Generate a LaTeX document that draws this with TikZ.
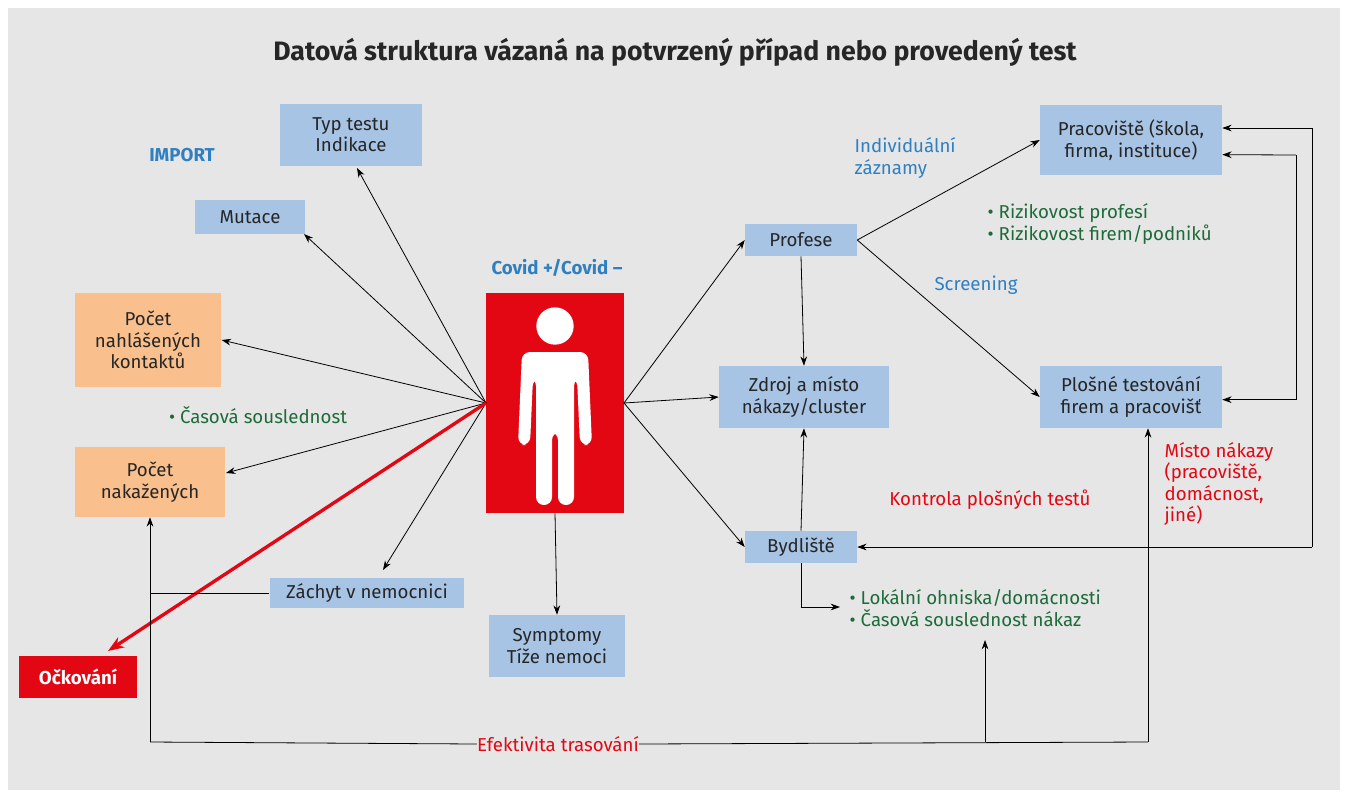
\documentclass[tikz,border=0pt]{standalone}
\usepackage{fontspec}
\setmainfont{Fira Sans}
\usetikzlibrary{positioning,arrows.meta}
\definecolor{bggrey}{RGB}{230,230,230}
\definecolor{boxblue}{RGB}{167,196,229}
\definecolor{boxorange}{RGB}{249,192,141}
\definecolor{covidred}{RGB}{227,6,19}
\definecolor{txtgreen}{RGB}{30,107,58}
\definecolor{txtblue}{RGB}{47,127,193}
\tikzset{
    % blue data box
    data/.style={
        fill=boxblue,
        text=black!85,
        align=center,
        inner sep=0pt,
        font=\fontsize{14}{16}\selectfont,
    },
    % orange count box
    count/.style={
        data,
        fill=boxorange,
    },
    note/.style={
        align=left,
        font=\fontsize{14}{16}\selectfont,
    },
    link/.style={
        draw=black,
        line width=0.6pt,
        -{Stealth[length=7pt,width=5pt]},
    },
}
\begin{document}
\begin{tikzpicture}[x=0.75pt,y=-0.75pt]
% Background
\fill[white] (0,0) rectangle (1348,800);
\fill[bggrey] (8,8) rectangle (1340,790);
\useasboundingbox (0,0) rectangle (1348,800);
\node[font=\fontsize{20}{24}\selectfont\bfseries, text=black!85] (title) at (675,52)
    {Datová struktura vázaná na potvrzený případ nebo provedený test};

%NODES_BEGIN%
    % left side
    \node[data, minimum width=106.5pt, minimum height=46.5pt] (typ) at (351,135) {Typ testu\\Indikace};
    \node[data, minimum width=82pt, minimum height=25pt] (mutace) at (250,217) {Mutace};
    \node[count, minimum width=110pt, minimum height=70.5pt] (kontakty) at (148,340) {Počet\\nahlášených\\kontaktů};
    \node[count, minimum width=112pt, minimum height=52.5pt] (nakazeni) at (150,482) {Počet\\nakažených};
    \node[data, minimum width=146pt, minimum height=23pt] (zachyt) at (367,593) {Záchyt v nemocnici};
    \node[data, minimum width=102pt, minimum height=46.5pt] (symptomy) at (557,646) {Symptomy\\Tíže nemoci};
    \node[fill=covidred, text=white, font=\fontsize{14}{16}\selectfont\bfseries,
        minimum width=88pt, minimum height=31pt, inner sep=0pt] (ockovani) at (78,677) {Očkování};
    % centre
    \node[fill=covidred, minimum width=103.5pt, minimum height=165pt, inner sep=0pt] (osoba) at (555,403) {};
    \node[note, text=txtblue, font=\fontsize{14}{16}\selectfont\bfseries] (covid) at (557,268) {Covid +/Covid –};
    % right side
    \node[data, minimum width=84pt, minimum height=24pt] (profese) at (801,240) {Profese};
    \node[data, minimum width=127.5pt, minimum height=46.5pt] (zdroj) at (804,397) {Zdroj a místo\\nákazy/cluster};
    \node[data, minimum width=84pt, minimum height=24pt] (bydliste) at (801,547) {Bydliště};
    \node[data, minimum width=136.5pt, minimum height=53pt] (pracoviste) at (1131,140) {Pracoviště (škola,\\firma, instituce)};
    \node[data, minimum width=136.5pt, minimum height=46.5pt] (plosne) at (1131,397) {Plošné testování\\firem a pracovišť};
%NODES_END%

%LABELS_BEGIN%
    \node[note, text=txtblue, font=\fontsize{14}{16}\selectfont\bfseries] (import) at (182,155) {IMPORT};
    \node[note, text=txtgreen] (casova) at (258,415) {• Časová souslednost};
    \node[note, text=txtblue, anchor=west] (indiv) at (850,158) {Individuální\\záznamy};
    \node[note, text=txtgreen, anchor=west] (riziko) at (983,224) {• Rizikovost profesí\\• Rizikovost firem/podniků};
    \node[note, text=txtblue] (screening) at (976,285) {Screening};
    \node[note, text=covidred, anchor=west] (misto) at (1160,484) {Místo nákazy\\(pracoviště,\\domácnost,\\jiné)};
    \node[note, text=covidred] (kontrola) at (990,500) {Kontrola plošných testů};
    \node[note, text=txtgreen, anchor=west] (lokalni) at (845,608) {• Lokální ohniska/domácnosti\\• Časová souslednost nákaz};
    \node[note, text=covidred, inner sep=0pt] (efektivita) at (558,744) {Efektivita trasování};
%LABELS_END%

% Person icon
\begin{scope}[white]
    \fill (555,326) circle (14pt);
    \fill[rounded corners=6pt] (522,352) -- (588,352) -- (592,445) -- (580,445) -- (577,378)
        -- (574,378) -- (574,505) -- (558,505) -- (558,432) -- (552,432) -- (552,505)
        -- (536,505) -- (536,378) -- (533,378) -- (530,445) -- (518,445) -- cycle;
\end{scope}

%LINKS_BEGIN%
    \coordinate (hubL) at (486,403);
    \coordinate (hubR) at (624,403);
    \draw[link] (hubL) -- (357,168);
    \draw[link] (hubL) -- (304,234);
    \draw[link] (hubL) -- (kontakty.east);
    \draw[link] (hubL) -- (226,473);
    \draw[link] (hubL) -- (383,570);
    \draw[covidred, line width=2.5pt, -{Stealth[length=12pt,width=9pt]}] (hubL) -- (108,651);
    \draw[link] (osoba.south) -- (symptomy.north);
    \draw[link] (hubR) -- (profese.west);
    \draw[link] (hubR) -- (zdroj.west);
    \draw[link] (hubR) -- (bydliste.west);
    \draw[link] (profese.south) -- (zdroj.north);
    \draw[link] (bydliste.north) -- (zdroj.south);
    \draw[link] (profese.east) -- (pracoviste.west);
    \draw[link] (profese.east) -- (plosne.west);
    \draw[link] (bydliste.south) |- (840,607);
    % right feedback loops
    \coordinate (loopA) at (1312,547);
    \coordinate (loopB) at (1296,155);
    \draw[link] (loopA) |- ([yshift=9pt]pracoviste.east);
    \draw[link] (loopA) -- (bydliste.east);
    \draw[link] (loopB) -- ([yshift=-11pt]pracoviste.east);
    \draw[link] (loopB) |- ([yshift=-2pt]plosne.east);
    % bottom tracing line
    \coordinate (baseL) at (150,742);
    \coordinate (baseR) at (1148,742);
    \draw[line width=0.6pt] (efektivita.west) -- (baseL);
    \draw[link] (baseL) -- (nakazeni.south);
    \draw[line width=0.6pt] (zachyt.west) -- (150,593);
    \draw[line width=0.6pt] (efektivita.east) -- (baseR);
    \draw[link] (985,742) -- (985,640);
    \draw[link] (baseR) -- (baseR |- plosne.south);
%LINKS_END%
\end{tikzpicture}
\end{document}
